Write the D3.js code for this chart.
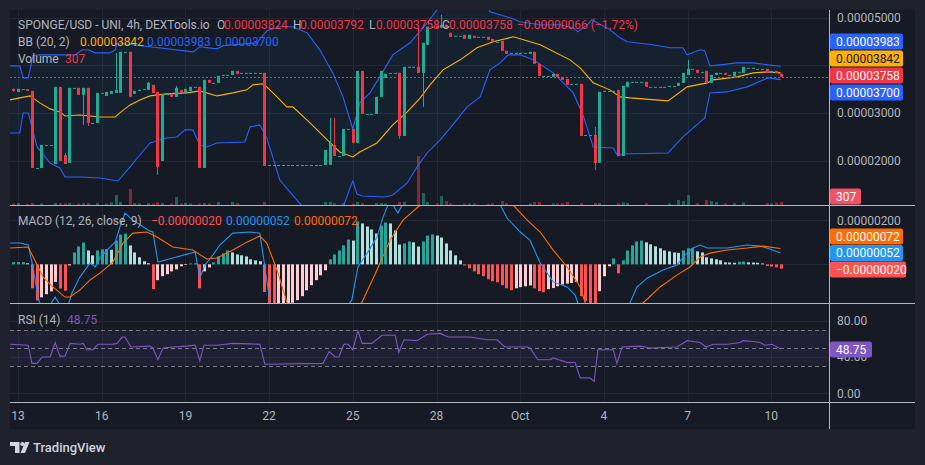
<!DOCTYPE html>
<html><head><meta charset="utf-8">
<script src="https://cdn.jsdelivr.net/npm/d3@7"></script>
<style>html,body{margin:0;padding:0;background:#1f222d;overflow:hidden}svg{display:block}</style>
</head><body><svg id="c" width="925" height="465"></svg>
<script>
// ---------- DATA (prices in units of 1e-8 USD, 4h bars, bar 0 = 13 Sep 00:00) ----------
const firstBar = -1;
const open = [3506,3442,3500,3500,3463,1843,1843,2327,2327,1927,
3548,2116,1948,3527,3527,3379,3527,2790,2790,3421,
3358,3400,3421,3421,4284,4284,3400,3463,3506,3485,
3590,3442,1990,3400,3400,3337,3485,3421,3463,3548,
3548,1843,3695,3632,3632,3800,3800,3800,3884,3842,
3842,3842,3842,3842,3842,1906,1906,1906,1906,1906,
1906,1906,1906,1906,1906,1906,1906,1906,1906,2327,
2095,2095,2664,2664,2369,3884,2979,2979,2979,3337,
3737,3842,3842,3842,2516,3969,3969,3969,3842,4432,
4811,4832,4790,4853,4684,4621,4621,4642,4558,4621,
4600,4600,4600,4558,4495,4516,4305,4263,4263,4263,
4263,4242,4284,4032,3779,3779,3758,3821,3758,3716,
3611,3611,3611,2537,2537,2537,1948,3463,3463,3463,
3485,2095,3548,3653,3653,3653,3653,3548,3548,3548,
3548,3548,3569,3569,3632,3800,3927,3906,3863,3884,
3632,3800,3842,3842,3800,3779,3863,3842,3948,3948,
3927,3927,3927,3842,3884,3824];
const high = [3515,3506,3500,3500,3463,1843,2327,2327,2327,3548,
3548,2158,3527,3527,3527,3527,3527,2790,3421,3421,
3442,3463,4263,4284,4284,4284,3463,3485,3506,3653,
3590,3442,3400,3400,3400,3569,3485,3506,3548,3548,
3548,3695,3695,3632,3779,3800,3800,3884,3884,3842,
3842,3842,3842,3842,3842,1906,1906,1906,1906,1906,
1906,1906,1906,1906,1906,1906,1906,2222,2895,2895,
2095,2664,2664,2664,3884,3884,2979,2979,3337,3884,
3821,3842,3842,3842,3969,3969,3969,4790,4474,4811,
4811,4832,5063,4853,4684,4621,4621,4642,4642,4621,
4600,4600,4600,4558,4495,4516,4305,4263,4263,4263,
4263,4284,4284,4032,3779,3779,3821,3821,3758,3716,
3611,3611,3611,2537,2537,2706,3442,3463,3463,3463,
3485,3569,3653,3653,3653,3653,3653,3548,3548,3548,
3548,3569,3569,3632,3842,4116,3927,3906,3863,3884,
3800,3842,3842,3842,3800,3863,3863,3969,3948,3948,
3927,3927,3927,3884,3884,3824];
const low = [3450,3442,3500,3463,1843,1843,1843,2327,2327,1927,
1990,1927,1948,3527,3379,2748,2727,2790,2790,3421,
3358,3400,3421,3421,4284,3337,3400,3463,3506,3485,
3421,1695,1990,3400,3337,3337,3421,3421,3463,3548,
1843,1843,3632,3632,3632,3800,3800,3800,3821,3842,
3842,3842,3842,3842,1885,1906,1906,1906,1906,1906,
1906,1906,1906,1906,1906,1906,1906,1906,1906,2095,
2095,2095,2664,2369,2369,2979,2979,2979,2979,3337,
3737,3842,3842,2453,2516,3969,3969,3842,3127,4432,
4811,4790,4790,4790,4600,4621,4621,4558,4558,4579,
4600,4600,4537,4495,4495,4305,4242,4263,4263,4263,
4263,4242,4032,3779,3779,3779,3758,3758,3695,3590,
3611,3611,2516,2537,2537,1800,1948,3463,3463,3463,
2095,2095,3548,3653,3653,3653,3548,3548,3548,3548,
3548,3548,3569,3569,3632,3800,3927,3842,3863,3632,
3632,3800,3842,3800,3800,3779,3863,3842,3948,3948,
3927,3927,3842,3842,3842,3758];
const close = [3463,3506,3500,3463,1843,1843,2327,2327,2327,3548,
1990,1927,3527,3527,3379,3527,2790,2790,3421,3421,
3442,3463,3485,4284,4284,3337,3463,3485,3506,3632,
3421,1864,3400,3400,3337,3527,3421,3506,3548,3548,
1843,3695,3632,3632,3779,3800,3800,3884,3821,3842,
3842,3842,3842,3842,1885,1906,1906,1906,1906,1906,
1906,1906,1906,1906,1906,1906,1906,2222,2369,2095,
2095,2664,2664,2369,3884,2979,2979,2979,3337,3884,
3821,3842,3842,2516,3969,3969,3969,3842,4474,4811,
4811,4790,4853,4790,4600,4621,4621,4558,4642,4579,
4600,4600,4537,4495,4495,4305,4242,4263,4263,4263,
4263,4284,4032,3779,3779,3779,3821,3758,3695,3590,
3611,3611,2516,2537,2537,1948,3442,3463,3463,3463,
2095,3569,3653,3653,3653,3653,3548,3548,3548,3548,
3548,3569,3569,3632,3842,3927,3927,3842,3863,3632,
3800,3842,3842,3800,3800,3863,3863,3969,3948,3948,
3927,3927,3842,3884,3842,3758];
const volume = [150,200,0,100,200,0,150,0,0,200,
200,150,200,0,150,200,200,0,200,0,
150,250,1000,300,0,1600,200,150,0,200,
150,250,200,0,150,800,150,200,150,0,
150,200,150,0,300,0,0,300,200,0,
0,0,0,0,300,0,0,0,0,0,
0,0,0,0,0,0,0,300,300,200,
0,200,0,150,300,200,0,0,200,200,
150,0,0,300,300,0,0,4900,1200,300,
0,150,900,400,150,0,0,150,150,150,
0,0,100,150,0,400,200,0,0,0,
0,150,300,300,0,0,150,150,200,300,
0,0,200,0,0,200,200,0,0,0,
200,250,200,0,0,0,200,0,0,0,
0,150,0,500,400,1000,0,200,0,500,
400,300,0,150,0,200,0,250,0,0,
0,0,200,150,250,307];
// Bollinger Bands (20,2): [bar, value]
const bbUpper = [[-1.7,3990],[0.4,3990],[1.1,3737],[2.2,3737],[3.2,4200],[4.7,4221],[12.3,4221],[13.8,4327],[15.1,4327],[16.6,4263],[19.8,4263],[20.9,4327],[21.3,4474],[28.4,4390],[37.6,4284],[39.1,4390],[42.8,4348],[44.1,4411],[51.4,4474],[53.5,4727],[56.3,4811],[59.1,4811],[62.2,4684],[64.9,4327],[67.7,3842],[69.9,3337],[72,2664],[73.5,3211],[75.7,3421],[77.8,3758],[80.6,4221],[84.3,4474],[88,4895],[90.1,5168],[92.9,5379],[97.2,5442],[100.9,5274],[101.5,5126],[105.8,5000],[108,4916],[112.3,4853],[116.6,4853],[119.4,4790],[120.4,4705],[122.4,4853],[123.4,4958],[127.3,4748],[129.5,4579],[131,4495],[136.6,4432],[140.2,4369],[143,4369],[143.9,4221],[146.7,4327],[147.7,4305],[148.8,3990],[151,4011],[154.6,4053],[158.1,4053],[161.3,4011],[164,3983]];
const bbBasis = [[-1.7,3274],[0.4,3316],[2.6,3358],[4.7,3211],[6.9,3085],[9,3021],[10.1,2937],[13.3,2958],[17.6,2916],[20.9,2916],[21.9,3000],[24.1,3169],[26.2,3274],[28.4,3358],[32,3400],[36.3,3421],[39.1,3463],[42.8,3358],[46.2,3421],[49.2,3485],[50.5,3590],[52.5,3611],[53.5,3548],[55.7,3337],[57.8,3127],[59.1,3127],[62.8,2790],[66.5,2432],[69.2,2179],[72,2074],[73.5,2179],[77.2,2369],[80.6,2748],[83.7,3021],[86.5,3316],[88.6,3590],[91.4,3906],[95.1,4116],[98.7,4369],[102.2,4495],[106.5,4600],[108,4558],[112.3,4432],[118.7,4116],[120.9,3948],[123.7,3632],[127.3,3485],[129.5,3337],[131.6,3316],[139.8,3253],[143.9,3548],[148.2,3632],[149.5,3695],[154.6,3758],[158.1,3842],[161.1,3863],[164,3842]];
const bbLower = [[-1.7,2579],[0.4,2579],[1.1,3000],[2.2,3000],[4.1,2285],[6.9,1948],[9,1843],[10.1,1653],[13.3,1653],[17.6,1632],[21.5,1569],[24.1,1864],[26.2,2116],[28.4,2369],[32,2474],[34.2,2495],[35.9,2643],[37.6,2643],[39.1,2327],[40.6,2285],[42.8,2369],[48.8,2390],[49.9,2706],[52,2748],[53.5,2474],[56.3,1590],[58.5,1337],[61.1,1042],[63.9,537],[67.1,537],[70.1,1064],[71.4,1422],[72,1569],[72.9,1295],[74,1253],[78.9,1232],[80.6,1274],[83.7,1527],[85.8,1864],[88,2158],[90.8,2432],[93.5,2748],[96.6,3127],[99.4,3337],[101.5,3906],[103.7,4053],[105.4,4221],[108,4221],[110.8,4116],[115.1,3842],[119.4,3421],[121.5,2958],[123.7,2285],[128,2264],[129,2095],[130.1,2137],[139.8,2158],[143,2495],[147.7,2895],[148.8,3421],[152.5,3442],[156.8,3548],[161.3,3737],[164,3700]];
// MACD (12,26,9) in units of 1e-8
const macdHist = [10,10,10,5,-109,-164,-150,-136,-123,-80,
-110,-120,-5,54,81,99,63,41,63,68,
70,66,108,135,140,86,54,32,14,5,
-113,-72,-54,-45,-32,-23,-9,-3,4,5,
-109,-32,-14,9,36,50,63,54,45,41,
36,23,18,14,-126,-218,-230,-220,-200,-190,
-175,-163,-145,-118,-95,-72,-50,-27,23,45,
63,86,113,108,195,186,172,159,140,177,
190,186,154,90,95,104,100,81,104,131,
136,131,122,95,63,41,18,-5,-18,-32,
-45,-54,-68,-77,-82,-95,-109,-118,-109,-104,
-100,-96,-109,-122,-127,-113,-108,-100,-92,-88,
-85,-80,-145,-168,-205,-225,-122,-54,-9,27,
-41,18,63,86,104,108,100,91,82,73,
63,59,54,52,63,73,75,59,54,32,
27,23,18,9,8,7,12,13,9,8,
7,4,-8,-10,-14,-20];
const macdLine = [[-1.7,97],[0.4,97],[2.2,88],[3.2,-12],[4.3,-149],[5.2,-208],[6.9,-185],[8,-149],[9,-185],[10.8,-185],[11.6,-130],[13.3,-58],[15.5,6],[16.6,-12],[17.6,29],[19.8,79],[20.9,101],[21.9,170],[23,233],[24.7,201],[28.4,151],[29,147],[30.1,10],[33.3,29],[38.1,56],[39.1,-63],[40.2,-3],[41.9,42],[43.4,88],[46.2,142],[49.9,147],[52,142],[53.1,-12],[54.2,-176],[56.3,-435],[60.6,-525],[67.1,-298],[71.8,-162],[73.1,-12],[75.1,51],[77.2,124],[78.5,215],[80,292],[81.7,233],[84.3,338],[90.8,428],[97.2,383],[103.7,270],[105.2,210],[108,147],[110.1,110],[112.3,6],[115.1,-80],[118.1,-103],[119.8,-140],[120.4,-176],[123,-390],[128.4,-344],[131.6,-176],[133.1,-103],[135.3,-63],[138.7,-26],[141.7,-3],[143.4,42],[145.2,74],[146.7,88],[148.2,74],[152.5,74],[156.8,88],[159.6,83],[161.7,70],[164,52]];
const signalLine = [[-1.7,74],[2.2,79],[5.4,-58],[7.5,-103],[10.1,-149],[11.2,-149],[13.3,-117],[15.5,-71],[17.6,-40],[20.4,10],[22.6,97],[24.7,142],[27.7,147],[29.9,124],[33.3,79],[37.6,65],[40.6,24],[42.8,29],[46.2,65],[49.2,101],[52,129],[53.5,97],[55.7,-26],[57.8,-171],[64.9,-480],[69.2,-344],[74,-171],[77.2,-26],[80,110],[82.8,201],[86.5,270],[92.9,383],[101.5,383],[106.5,270],[109.5,201],[112.3,147],[115.1,65],[118.1,-12],[120.9,-103],[122,-176],[127.3,-298],[134.4,-176],[138.1,-103],[141.7,-49],[144.5,-12],[146.7,33],[148.8,51],[152.5,65],[156.8,74],[160.2,83],[164,72]];
// RSI (14)
const rsiLine = [[-1.7,54],[2.2,53],[3,33],[4.1,33],[5.2,40],[6.9,40],[8,56],[9,41],[10.1,41],[11.2,55],[13.3,54],[14,55],[14.8,48],[16.1,48],[17.2,54],[20.4,54],[21.3,55],[22.4,62],[23,62],[24.3,51],[28.4,52],[29,50],[30.1,37],[31.2,50],[33.3,51],[36.3,52],[38.1,53],[39.1,36],[40,53],[42.8,53],[46.2,55],[52,54],[53.1,32],[65.6,33],[66.9,46],[68.2,40],[69,40],[70.1,54],[71,54],[72,48],[73.1,69],[74,55],[76.1,55],[78.3,64],[81.1,64],[81.9,45],[83,59],[85.8,58],[88,65],[90.8,66],[92.5,62],[97.2,62],[100.9,59],[103,59],[104.7,51],[109.5,51],[110.1,50],[111.8,37],[114.4,37],[115.1,39],[118.1,34],[119.8,34],[120.9,17],[123,17],[123.9,13],[124.7,48],[128,48],[128.8,33],[129.9,51],[133.8,52],[135.9,50],[141.7,51],[143.9,58],[145.2,57],[146.7,56],[148,51],[149.5,54],[152.5,54],[155.3,56],[155.9,58],[158.1,57],[159.6,56],[160.6,53],[162.2,54],[162.8,52],[164,48.75]];
// axes / ticks
const timeTickBars = [0,18,36,54,72,90,108,126,144,162];
const timeTickLabels = ["13","16","19","22","25","28","Oct","4","7","10"];
const priceGrid = [2000,3000,4000,5000];
const priceTickLabels = [2000,3000,5000];
const macdGrid = [0,200];
const macdTickLabels = [200];
const rsiGrid = [0,40,80];
const rsiTickLabels = [80,40,0];
const rsiBands = [70,50,30];
// legend values
const title = "SPONGE/USD - UNI, 4h, DEXTools.io";
const lastOHLC = [3824,3792,3758,3758];
const lastChange = [-66,-1.72];
const lastBB = [3842,3983,3700];
const lastVolume = 307;
const lastMACD = [-20,52,72]; // hist, macd, signal
const lastRSI = 48.75;

// ---------- LAYOUT ----------
const FONT = "Roboto, 'Liberation Sans', Arial, sans-serif";
const PL=10, PR=830, AR=915;
const mainT=10, mainB=205, macdT=205, macdB=303.5, rsiT=303.5, rsiB=402, axB=429;
const C = {bg:'#1f222d', pane:'#161a25', grid:'#232733', sep:'#b4b7bf', text:'#b2b5be',
  up:'#22ab94', down:'#f23645', bbBlue:'#2962ff', bbMid:'#ffb000',
  macd:'#2196f3', signal:'#ff6d00', rsi:'#7e57c2'};
const svg = d3.select('#c').style('font-family',FONT);
svg.append('rect').attr('width',925).attr('height',465).attr('fill',C.bg);
svg.append('rect').attr('x',PL).attr('y',mainT).attr('width',AR-PL).attr('height',axB-mainT).attr('fill',C.pane);

const x = d3.scaleLinear().domain([0,162]).range([18,771.3]);
const yP = d3.scaleLinear().domain([2000,5000]).range([160.5,17.8]);
const yV = d3.scaleLinear().domain([0,6000]).range([mainB,mainB-60]);
const yM = d3.scaleLinear().domain([-176,270]).range([303,205]);
const yR = d3.scaleLinear().domain([0,80]).range([393.3,320.7]);
const fx = v => (v*1e-8).toFixed(8);
const fm = v => (v<0?'\u2212':'') + (Math.abs(v)*1e-8).toFixed(8);

const defs = svg.append('defs');
function clip(id,y0,y1){defs.append('clipPath').attr('id',id).append('rect').attr('x',PL).attr('y',y0).attr('width',PR-PL).attr('height',y1-y0);}
clip('cm',mainT,mainB); clip('cd',macdT,macdB); clip('cr',rsiT,rsiB);

// grid
const g0 = svg.append('g').attr('stroke',C.grid).attr('shape-rendering','crispEdges');
timeTickBars.forEach(b=>g0.append('line').attr('x1',Math.round(x(b))+0.5).attr('x2',Math.round(x(b))+0.5).attr('y1',mainT).attr('y2',rsiB));
priceGrid.forEach(v=>g0.append('line').attr('x1',PL).attr('x2',PR).attr('y1',Math.round(yP(v))+0.5).attr('y2',Math.round(yP(v))+0.5));
macdGrid.forEach(v=>g0.append('line').attr('x1',PL).attr('x2',PR).attr('y1',Math.round(yM(v))+0.5).attr('y2',Math.round(yM(v))+0.5));
rsiGrid.forEach(v=>g0.append('line').attr('x1',PL).attr('x2',PR).attr('y1',Math.round(yR(v))+0.5).attr('y2',Math.round(yR(v))+0.5));

// ---------- MAIN PANE ----------
const gm = svg.append('g').attr('clip-path','url(#cm)');
const lineP = d3.line().x(d=>x(d[0])).y(d=>yP(d[1]));
gm.append('path').attr('d', lineP(bbUpper.concat(bbLower.slice().reverse()))+'Z').attr('fill','rgba(33,150,243,0.06)');
const bars = open.map((o,k)=>({i:firstBar+k,o,h:high[k],l:low[k],c:close[k],v:volume[k]}));
gm.append('g').selectAll('rect').data(bars.filter(d=>d.v>0)).join('rect')
  .attr('x',d=>Math.round(x(d.i))-1).attr('width',3)
  .attr('y',d=>yV(d.v)).attr('height',d=>mainB-yV(d.v))
  .attr('fill',d=>d.c>=d.o?'rgba(34,171,148,0.5)':'rgba(242,54,69,0.5)');
[[bbUpper,C.bbBlue],[bbLower,C.bbBlue],[bbBasis,C.bbMid]].forEach(([d,c])=>
  gm.append('path').attr('d',lineP(d)).attr('fill','none').attr('stroke',c).attr('stroke-width',1.1));
const gc = gm.append('g');
bars.forEach(d=>{
  const col = d.c>=d.o?C.up:C.down, cx=Math.round(x(d.i));
  gc.append('line').attr('x1',cx+0.5).attr('x2',cx+0.5).attr('y1',yP(d.h)).attr('y2',yP(d.l)).attr('stroke',col);
  const y0=yP(Math.max(d.o,d.c)), y1=yP(Math.min(d.o,d.c));
  gc.append('rect').attr('x',cx-1).attr('width',3).attr('y',y0).attr('height',Math.max(1,y1-y0)).attr('fill',col);
});
gm.append('line').attr('x1',PL).attr('x2',PR).attr('y1',Math.round(yP(lastOHLC[3]))+0.5).attr('y2',Math.round(yP(lastOHLC[3]))+0.5)
  .attr('stroke',C.down).attr('stroke-width',1).attr('stroke-dasharray','2,2').attr('shape-rendering','crispEdges');

// ---------- MACD PANE ----------
const gd = svg.append('g').attr('clip-path','url(#cd)');
gd.selectAll('rect').data(macdHist.map((v,k)=>({i:firstBar+k,v,p:k?macdHist[k-1]:v}))).join('rect')
  .attr('x',d=>Math.round(x(d.i))-1).attr('width',3)
  .attr('y',d=>Math.min(yM(0),yM(d.v))).attr('height',d=>Math.abs(yM(d.v)-yM(0)))
  .attr('fill',d=>d.v>=0?(d.v>=d.p?'#26a69a':'#b2dfdb'):(d.v<d.p?'#ff5252':'#ffcdd2'));
const lineM = d3.line().x(d=>x(d[0])).y(d=>yM(d[1]));
gd.append('path').attr('d',lineM(macdLine)).attr('fill','none').attr('stroke',C.macd).attr('stroke-width',1.1);
gd.append('path').attr('d',lineM(signalLine)).attr('fill','none').attr('stroke',C.signal).attr('stroke-width',1.1);

// ---------- RSI PANE ----------
const gr = svg.append('g').attr('clip-path','url(#cr)');
gr.append('rect').attr('x',PL).attr('width',PR-PL).attr('y',yR(rsiBands[0])).attr('height',yR(rsiBands[2])-yR(rsiBands[0])).attr('fill','rgba(126,87,194,0.1)');
rsiBands.forEach(v=>gr.append('line').attr('x1',PL).attr('x2',PR).attr('y1',Math.round(yR(v))+0.5).attr('y2',Math.round(yR(v))+0.5)
  .attr('stroke','#787b86').attr('stroke-dasharray','4,3'));
gr.append('path').attr('d',d3.line().x(d=>x(d[0])).y(d=>yR(d[1]))(rsiLine)).attr('fill','none').attr('stroke',C.rsi).attr('stroke-width',1.1);

// ---------- SEPARATORS ----------
const gs = svg.append('g').attr('stroke',C.sep).attr('shape-rendering','crispEdges');
[mainB,macdB,rsiB].forEach(y=>gs.append('line').attr('x1',PL).attr('x2',AR).attr('y1',Math.floor(y)+0.5).attr('y2',Math.floor(y)+0.5));
gs.append('line').attr('x1',PR-0.5).attr('x2',PR-0.5).attr('y1',mainT).attr('y2',axB);

// ---------- AXES TEXT ----------
const ax = svg.append('g').attr('fill',C.text).style('font-size','12px');
priceTickLabels.forEach(v=>ax.append('text').attr('x',837).attr('y',yP(v)).attr('dy','0.35em').text(fx(v)));
macdTickLabels.forEach(v=>ax.append('text').attr('x',837).attr('y',yM(v)).attr('dy','0.35em').text(fx(v)));
rsiTickLabels.forEach(v=>ax.append('text').attr('x',837).attr('y',yR(v)).attr('dy','0.35em').text(v.toFixed(2)));
timeTickBars.forEach((b,k)=>ax.append('text').attr('x',x(b)).attr('y',416).attr('dy','0.35em').attr('text-anchor','middle').text(timeTickLabels[k]));

// ---------- LAST VALUE TAGS ----------
function tag(y,txt,bg,fg,w){
  svg.append('rect').attr('x',PR).attr('y',y-8).attr('width',w).attr('height',16).attr('rx',2).attr('fill',bg);
  svg.append('text').attr('x',PR+6).attr('y',y).attr('dy','0.35em').attr('fill',fg).style('font-size','12px').text(txt);
}
const yClose = yP(lastOHLC[3])-1.5;
tag(Math.min(yP(lastBB[0]), Math.min(yP(lastBB[1]),yClose-17)-17), fx(lastBB[1]), C.bbBlue,'#fff',73);
tag(Math.min(yP(lastBB[0]),yClose-17), fx(lastBB[0]), C.bbMid,'#131722',73);
tag(yClose, fx(lastOHLC[3]), C.down,'#fff',73);
tag(Math.max(yP(lastBB[2]),yClose+17), fx(lastBB[2]), C.bbBlue,'#fff',73);
tag(mainB-8.5, String(lastVolume), '#f05365','#fff',31);
const yMac = yM(lastMACD[1]);
tag(Math.min(yM(lastMACD[2]),yMac-16.5), fm(lastMACD[2]), C.signal,'#fff',73);
tag(yMac, fm(lastMACD[1]), C.macd,'#fff',73);
tag(Math.max(yM(lastMACD[0]),yMac+16.5), fm(lastMACD[0]), '#ff5252','#fff',76);
tag(yR(lastRSI)+0.5, lastRSI.toFixed(2), C.rsi,'#fff',42);

// ---------- LEGENDS ----------
const lg = svg.append('g').style('font-size','12px');
function lt(xp,y,txt,col){lg.append('text').attr('x',xp).attr('y',y).attr('dy','0.35em').attr('fill',col).text(txt);}
lt(18,25,title,C.text);
[['O',217,224],['H',293,300],['L',369,376],['C',442,449]].forEach((p,k)=>{lt(p[1],25,p[0],C.text);lt(p[2],25,fx(lastOHLC[k]),C.down);});
lt(517,25,fm(lastChange[0])+' ('+'\u2212'+Math.abs(lastChange[1]).toFixed(2)+'%)',C.down);
lt(18,42,'BB (20, 2)',C.text);
lt(80,42,fx(lastBB[0]),C.bbMid); lt(147,42,fx(lastBB[1]),C.bbBlue); lt(215,42,fx(lastBB[2]),C.bbBlue);
lt(18,59,'Volume',C.text); lt(65,59,String(lastVolume),C.down);
lt(18,221,'MACD (12, 26, close, 9)',C.text);
lt(151,221,fm(lastMACD[0]),'#ff5252'); lt(226,221,fm(lastMACD[1]),C.macd); lt(294,221,fm(lastMACD[2]),C.signal);
lt(18,320,'RSI (14)',C.text); lt(67,320,lastRSI.toFixed(2),C.rsi);

// ---------- LOGO ----------
const lo = svg.append('g').attr('fill','#d1d4dc');
lo.append('path').attr('d','M10 442H19.5V453H15V446H10Z');
lo.append('circle').attr('cx',22.3).attr('cy',444).attr('r',2.1);
lo.append('path').attr('d','M25 442H29.5L25 453H20.5Z');
svg.append('text').attr('x',33).attr('y',451.5).attr('fill','#d1d4dc').style('font-size','13px').style('font-weight','500').text('TradingView');
</script></body></html>
